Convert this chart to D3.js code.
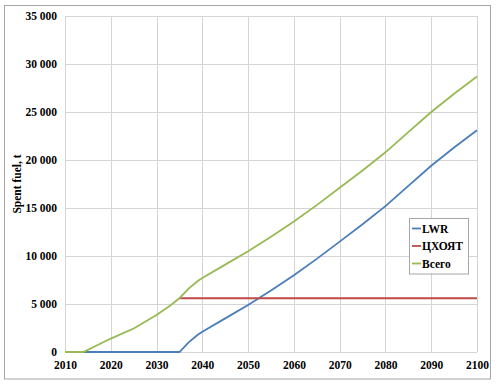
<!DOCTYPE html>
<html><head><meta charset="utf-8">
<script src="https://cdn.jsdelivr.net/npm/d3@7"></script>
<style>body{margin:0;background:#fff}svg{display:block}</style>
</head><body>
<svg id="c" width="500" height="384"></svg>
<script>
const xTicks = [2010,2020,2030,2040,2050,2060,2070,2080,2090,2100];
const yTicks = [0,5000,10000,15000,20000,25000,30000,35000];
const seriesNames = ["LWR","ЦХОЯТ","Всего"];
const lwrYears = [2014,2035,2037,2039,2040,2045,2050,2055,2060,2065,2070,2075,2080,2085,2090,2095,2100];
const lwrValues = [0,0,1000,1800,2100,3500,4900,6400,8000,9700,11500,13300,15200,17300,19400,21300,23100];
const redYears = [2035,2100];
const redValues = [5600,5600];
const totalYears = [2010,2014,2020,2025,2030,2033,2035,2037,2039,2040,2045,2050,2055,2060,2065,2070,2075,2080,2085,2090,2095,2100];
const totalValues = [0,0,1400,2450,3850,4850,5600,6600,7400,7700,9100,10500,12000,13600,15300,17100,18900,20800,22900,25000,26900,28700];
const colors = ["#4a7ebb","#be4b48","#98b954"];

const svg = d3.select("#c");
const L=65,R=477,T=16,B=352;
const x = d3.scaleLinear().domain([2010,2100]).range([L,R]);
const y = d3.scaleLinear().domain([0,35000]).range([B,T]);
const font = "'Liberation Serif','Times New Roman',serif";

svg.append("rect").attr("x",4.5).attr("y",5.5).attr("width",486).attr("height",373.5)
  .attr("fill","#fff").attr("stroke","#a6a6a6").attr("stroke-width",1);

const g = svg.append("g");
g.selectAll(".vg").data(xTicks).join("line").attr("x1",d=>Math.round(x(d))+0.5).attr("x2",d=>Math.round(x(d))+0.5)
  .attr("y1",T).attr("y2",B).attr("stroke","#d4d4d4");
g.selectAll(".hg").data(yTicks).join("line").attr("y1",d=>Math.round(y(d))+0.5).attr("y2",d=>Math.round(y(d))+0.5)
  .attr("x1",L).attr("x2",R).attr("stroke","#d4d4d4");

const fmt = d => d3.format(",")(d).replace(/,/g," ");
const yAxis = d3.axisLeft(y).tickValues(yTicks).tickFormat(fmt).tickSize(0).tickPadding(8);
const ya = svg.append("g").attr("transform",`translate(${L},0)`).call(yAxis);
ya.select(".domain").remove();
ya.selectAll("text").attr("font-family",font).attr("font-weight","bold").attr("font-size",11.5).attr("fill","#000");

const xAxis = d3.axisBottom(x).tickValues(xTicks).tickFormat(d3.format("d")).tickSize(0).tickPadding(9);
const xa = svg.append("g").attr("transform",`translate(0,${B})`).call(xAxis);
xa.select(".domain").remove();
xa.selectAll("text").attr("font-family",font).attr("font-weight","bold").attr("font-size",11.5).attr("fill","#000");

svg.append("text").attr("transform",`translate(21,${(T+B)/2}) rotate(-90)`).attr("text-anchor","middle")
  .attr("font-family",font).attr("font-weight","bold").attr("font-size",11.5).text("Spent fuel, t");

const line = d3.line().x(d=>x(d[0])).y(d=>y(d[1]));
const data = [d3.zip(lwrYears,lwrValues), d3.zip(redYears,redValues), d3.zip(totalYears,totalValues)];
data.forEach((d,i)=>{
  svg.append("path").datum(d).attr("d",line).attr("fill","none").attr("stroke",colors[i]).attr("stroke-width",1.8);
});

const lg = svg.append("g");
lg.append("rect").attr("x",409.5).attr("y",218.5).attr("width",59).attr("height",55.5)
  .attr("fill","#fff").attr("stroke","#a6a6a6");
seriesNames.forEach((n,i)=>{
  const cy = 228.5 + i*17.5;
  lg.append("line").attr("x1",412).attr("x2",421).attr("y1",cy).attr("y2",cy).attr("stroke",colors[i]).attr("stroke-width",1.8);
  lg.append("text").attr("x",422).attr("y",cy+4).attr("font-family",font).attr("font-weight","bold").attr("font-size",11.5).text(n);
});
</script>
</body></html>
